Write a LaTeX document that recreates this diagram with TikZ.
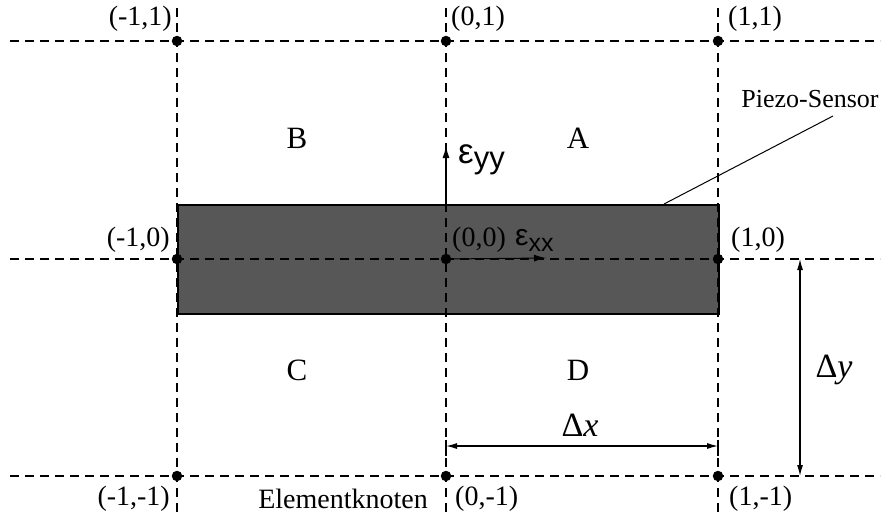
\documentclass[tikz,border=0pt]{standalone}
\usepackage{fontspec}
\setmainfont{Liberation Serif}
\newfontfamily\epsfont{Liberation Sans}
\usetikzlibrary{arrows.meta}
\begin{document}
\begin{tikzpicture}[x=1pt,y=-1pt,
  grid/.style={line width=1.3pt,dash pattern=on 9pt off 6pt},
  knot/.style={circle,fill=black,inner sep=0pt,minimum size=10.5pt},
  lbl/.style={font=\fontsize{28}{30}\selectfont,inner sep=1pt},
  reg/.style={font=\fontsize{31}{33}\selectfont},
  dimtxt/.style={font=\fontsize{34}{36}\selectfont},
  dim/.style={line width=1.2pt,{Latex[length=11pt,width=6pt]}-{Latex[length=11pt,width=6pt]}},
  vec/.style={line width=1.3pt,-{Latex[length=12pt,width=7pt]}},
  sensor/.style={draw=black,line width=1.5pt,fill=black!66}]
\useasboundingbox (0,0) rectangle (893,517);
% grid lines
\coordinate (t1) at (177,8);  \coordinate (b1) at (177,512);
\coordinate (t2) at (446,8);  \coordinate (b2) at (446,512);
\coordinate (t3) at (718,8);  \coordinate (b3) at (718,512);
\coordinate (l1) at (10,41);  \coordinate (r1) at (880,41);
\coordinate (l2) at (10,259); \coordinate (r2) at (880,259);
\coordinate (l3) at (10,476); \coordinate (r3) at (880,476);
% sensor
\node[sensor,minimum width=541pt,minimum height=109pt,inner sep=0pt,anchor=north west] (S) at (177,204) {};
\draw[grid] (t1) -- (b1) (t2) -- (b2) (t3) -- (b3);
\draw[grid] (l1) -- (r1) (l2) -- (r2) (l3) -- (r3);
% knots
\node[knot] (nmm) at (177,476) {};
\node[knot] (n0m) at (446,476) {};
\node[knot] (npm) at (718,476) {};
\node[knot] (nm0) at (177,259) {};
\node[knot] (n00) at (446,259) {};
\node[knot] (np0) at (718,259) {};
\node[knot] (nmp) at (177,41) {};
\node[knot] (n0p) at (446,41) {};
\node[knot] (npp) at (718,41) {};
% knot labels
\node[lbl,anchor=east] (Lmp) at (173,19) {(-1,1)};
\node[lbl,anchor=west] (L0p) at (450,19) {(0,1)};
\node[lbl,anchor=west] (Lpp) at (727,19) {(1,1)};
\node[lbl,anchor=east] (Lm0) at (171,240) {(-1,0)};
\node[lbl,anchor=west] (L00) at (451,240) {(0,0)};
\node[lbl,anchor=west] (Lp0) at (730,240) {(1,0)};
\node[lbl,anchor=east] (Lmm) at (171,499) {(-1,-1)};
\node[lbl,anchor=east] (Lek) at (429,499) {Elementknoten};
\node[lbl,anchor=west] (L0m) at (454,499) {(0,-1)};
\node[lbl,anchor=west] (Lpm) at (728,499) {(1,-1)};
% regions
\node[reg] (B) at (297,138) {B};
\node[reg] (A) at (578,138) {A};
\node[reg] (C) at (297,370) {C};
\node[reg] (D) at (578,370) {D};
% strains
\coordinate (eyyend) at (446,146);
\draw[vec] (446,204) -- (eyyend);
\node[anchor=west,font=\epsfont\fontsize{35}{37}\selectfont,inner sep=1pt] (eyy) at (457,160) {ε\raisebox{-0.15em}{\fontsize{31}{33}\selectfont yy}};
\coordinate (exxend) at (546,258);
\draw[vec,line width=1pt] (n00) -- (exxend);
\node[anchor=west,font=\epsfont\fontsize{30}{32}\selectfont,inner sep=1pt] (exx) at (514,240) {ε\raisebox{-0.2em}{\fontsize{25}{27}\selectfont xx}};
% Piezo-Sensor label
\node[lbl,font=\fontsize{26}{28}\selectfont] (PS) at (810,99) {Piezo-Sensor};
\coordinate (pstip) at (664,204);
\draw[line width=1pt] (833,116) -- (pstip);
% dimensions
\coordinate (dx1) at (446,446); \coordinate (dx2) at (718,446);
\draw[line width=1.2pt] (446,440) -- (446,456) (718,440) -- (718,456);
\draw[dim] (dx1) -- (dx2);
\node[dimtxt] (DX) at (580,425) {Δ\textit{x}};
\coordinate (dy1) at (800,259); \coordinate (dy2) at (800,476);
\draw[dim] (dy1) -- (dy2);
\node[dimtxt] (DY) at (834,370) {Δ\textit{y}};
\end{tikzpicture}
\end{document}
